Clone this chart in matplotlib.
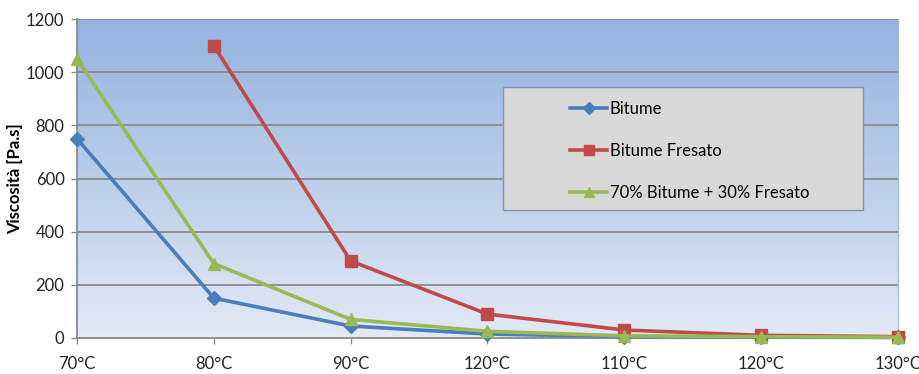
import matplotlib
matplotlib.use('Agg')

import matplotlib.pyplot as plt
import numpy as np
from matplotlib.colors import LinearSegmentedColormap
from matplotlib.patches import Rectangle

plt.rcParams['font.family'] = ['Lato', 'DejaVu Sans']

temperature = ["70°C", "80°C", "90°C", "120°C", "110°C", "120°C", "130°C"]
bitume = [750, 150, 45, 15, 5, 3, 2]
bitume_fresato = [np.nan, 1100, 290, 90, 30, 10, 5]
mix_70_30 = [1050, 280, 70, 25, 8, 5, 3]
y_ticks = [0, 200, 400, 600, 800, 1000, 1200]

fig = plt.figure(figsize=(9.2, 3.74), dpi=100)
ax = fig.add_axes([0.0837, 0.0963, 0.8923, 0.8527])

x = np.arange(len(temperature))

# gradient fill of the plot area
cmap = LinearSegmentedColormap.from_list("bg", ["#e3e9f5", "#93b3e0"])
grad = np.linspace(0, 1, 256).reshape(-1, 1)
ax.imshow(grad, cmap=cmap, aspect='auto', origin='lower',
          extent=[0, len(temperature) - 1, 0, 1200], zorder=0)

for yv in y_ticks[1:]:
    ax.axhline(yv, color="#8a8a8a", lw=1.3, zorder=1)

ax.plot(x, bitume, color="#4a7ebb", lw=2.6, marker="D", ms=7,
        label="Bitume", zorder=3, clip_on=False)
ax.plot(x, bitume_fresato, color="#be4b48", lw=2.6, marker="s", ms=9,
        label="Bitume Fresato", zorder=3, clip_on=False)
ax.plot(x, mix_70_30, color="#98b954", lw=2.6, marker="^", ms=9,
        label="70% Bitume + 30% Fresato", zorder=4, clip_on=False)

ax.set_xlim(0, len(temperature) - 1)
ax.set_ylim(0, 1200)
ax.set_xticks(x)
ax.set_xticklabels(temperature)
ax.set_yticks(y_ticks)
ax.tick_params(axis='both', labelsize=12, labelcolor="#222222", length=4,
               width=1, direction='out', pad=5, color="#8a8a8a")
ax.tick_params(axis='x', pad=9)

ax.spines['left'].set_color("#8a8a8a")
ax.spines['left'].set_linewidth(1.3)
ax.spines['bottom'].set_color("#8a8a8a")
ax.spines['bottom'].set_linewidth(1.3)
ax.spines['right'].set_color("#9cb4de")
ax.spines['top'].set_visible(False)

ax.set_ylabel("Viscosità [Pa.s]", fontsize=12, fontweight='bold', labelpad=2)

# legend box
box = Rectangle((503 / 920, 1 - 210 / 374), 360 / 920, 123 / 374,
                transform=fig.transFigure, facecolor="#d9d9d9",
                edgecolor="#7f95b5", lw=1, zorder=5, clip_on=False)
ax.add_patch(box)
leg = ax.legend(loc='upper left', bbox_to_anchor=(562 / 920, 1 - 93 / 374),
                bbox_transform=fig.transFigure, frameon=False, fontsize=12,
                handlelength=2.2, handletextpad=0.15, labelspacing=1.55,
                borderpad=0, markerscale=0.85)
leg.set_zorder(6)

fig.savefig("out.png", dpi=100)
